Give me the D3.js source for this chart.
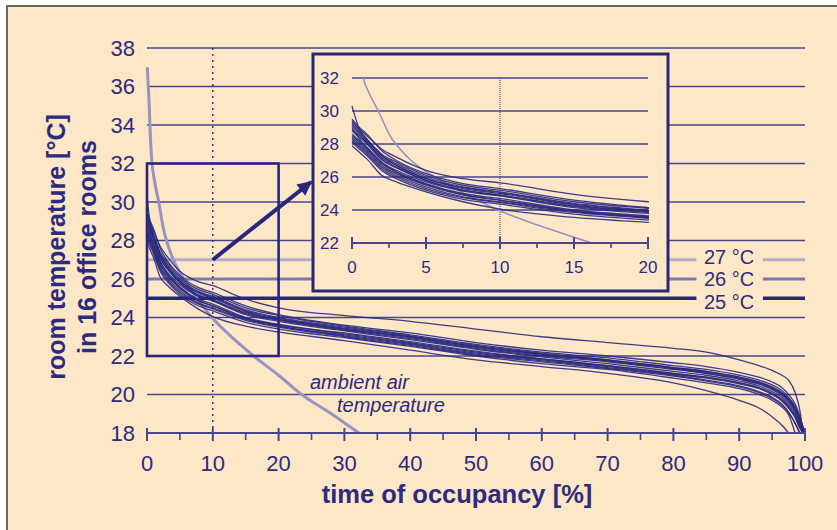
<!DOCTYPE html>
<html>
<head>
<meta charset="utf-8">
<script src="https://cdn.jsdelivr.net/npm/d3@7/dist/d3.min.js"></script>
<style>
  html, body { margin: 0; padding: 0; background: #ffffff; }
  svg { display: block; }
  text { font-family: "Liberation Sans", Arial, sans-serif; fill: #2c2b80; }
</style>
</head>
<body>
<svg id="chart" width="837" height="530"></svg>
<script>
// ---------------- DATA ----------------
const occupancy = [0, 0.5, 1, 2, 3, 5, 7.5, 10, 15, 20, 30, 40, 50, 60, 70, 80, 85, 90, 93, 95, 96.5, 97.5, 98.5, 99.2, 99.7, 100];

const room01 = [29.3, 28.9, 28.5, 27.7, 27.2, 26.4, 25.9, 25.65, 24.95, 24.5, 24.1, 23.8, 23.4, 23.0, 22.7, 22.4, 22.2, 21.8, 21.5, 21.25, 21.0, 20.75, 20.1, 19.2, 18.0, null];
const room02 = [27.9, 27.5, 27.1, 26.1, 25.7, 25.1, 24.5, 24.05, 23.55, 23.25, 22.8, 22.3, 21.8, 21.45, 21.1, 20.6, 20.2, 19.7, 19.3, 18.85, 18.4, 18.0, null, null, null, null];
const room03 = [30.3, 28.9, 28.3, 27.3, 26.7, 25.9, 25.3, 25.0, 24.3, 23.9, 23.4, 23.0, 22.5, 22.1, 21.75, 21.35, 21.1, 20.8, 20.55, 20.25, 19.95, 19.6, 19.1, 18.5, 18.0, null];
const room04 = [29.5, 29.0, 28.6, 27.6, 27.0, 26.2, 25.6, 25.3, 24.6, 24.15, 23.6, 23.2, 22.7, 22.3, 22.0, 21.65, 21.45, 21.15, 20.9, 20.65, 20.35, 20.0, 19.5, 18.9, 18.3, 18.0];
const room05 = [29.2, 28.7, 28.2, 27.3, 26.8, 26.0, 25.4, 25.1, 24.4, 24.0, 23.5, 23.05, 22.55, 22.15, 21.8, 21.4, 21.2, 20.9, 20.65, 20.35, 20.05, 19.7, 19.2, 18.6, 18.0, null];
const room06 = [28.3, 27.9, 27.5, 26.6, 26.1, 25.4, 24.8, 24.5, 23.9, 23.55, 23.05, 22.6, 22.1, 21.75, 21.4, 21.0, 20.75, 20.45, 20.15, 19.85, 19.5, 19.1, 18.5, 18.0, null, null];
const room07 = [28.9, 28.5, 28.1, 27.1, 26.6, 25.8, 25.2, 24.9, 24.2, 23.85, 23.35, 22.9, 22.4, 22.0, 21.7, 21.3, 21.1, 20.8, 20.55, 20.3, 20.0, 19.7, 19.25, 18.7, 18.2, 18.0];
const room08 = [28.5, 28.1, 27.7, 26.8, 26.3, 25.6, 25.0, 24.7, 24.0, 23.65, 23.15, 22.7, 22.2, 21.85, 21.5, 21.1, 20.9, 20.6, 20.35, 20.05, 19.7, 19.35, 18.85, 18.3, 18.0, null];
const room09 = [29.0, 28.3, 27.8, 26.9, 26.4, 25.7, 25.15, 24.85, 24.15, 23.8, 23.3, 22.85, 22.35, 21.95, 21.6, 21.2, 21.0, 20.7, 20.45, 20.15, 19.85, 19.5, 19.0, 18.45, 18.05, 18.0];
const room10 = [28.1, 27.7, 27.3, 26.4, 25.9, 25.2, 24.65, 24.35, 23.75, 23.4, 22.95, 22.5, 22.0, 21.6, 21.3, 20.85, 20.6, 20.3, 20.0, 19.7, 19.35, 18.95, 18.0, null, null, null];
const room11 = [29.4, 28.8, 28.3, 27.4, 26.9, 26.1, 25.5, 25.2, 24.5, 24.1, 23.55, 23.1, 22.6, 22.2, 21.9, 21.5, 21.3, 21.0, 20.75, 20.5, 20.2, 19.85, 19.35, 18.8, 18.3, 18.0];
const room12 = [28.6, 28.2, 27.8, 26.9, 26.3, 25.55, 24.95, 24.6, 23.95, 23.6, 23.2, 22.75, 22.25, 21.85, 21.5, 21.1, 20.9, 20.6, 20.35, 20.05, 19.75, 19.4, 18.9, 18.35, 18.0, null];
const room13 = [28.8, 28.4, 28.0, 27.05, 26.55, 25.8, 25.2, 24.9, 24.25, 23.9, 23.4, 22.95, 22.45, 22.05, 21.75, 21.35, 21.15, 20.85, 20.6, 20.35, 20.05, 19.75, 19.3, 18.75, 18.25, 18.0];
const room14 = [28.2, 27.8, 27.4, 26.5, 26.0, 25.3, 24.75, 24.45, 23.85, 23.5, 23.0, 22.55, 22.05, 21.7, 21.35, 20.95, 20.7, 20.4, 20.1, 19.8, 19.45, 19.05, 18.5, 18.0, null, null];
const room15 = [29.1, 28.6, 28.1, 27.2, 26.7, 25.9, 25.35, 25.05, 24.35, 23.95, 23.45, 23.0, 22.5, 22.1, 21.8, 21.4, 21.2, 20.9, 20.65, 20.4, 20.1, 19.8, 19.35, 18.8, 18.3, 18.0];
const room16 = [28.4, 28.0, 27.6, 26.7, 26.2, 25.5, 24.9, 24.6, 23.95, 23.55, 23.1, 22.65, 22.15, 21.8, 21.45, 21.05, 20.85, 20.55, 20.3, 20.0, 19.65, 19.3, 18.8, 18.25, 18.0, null];
const rooms = [room01, room02, room03, room04, room05, room06, room07, room08,
               room09, room10, room11, room12, room13, room14, room15, room16];

const ambientX = [0.05, 0.3, 0.55, 0.77, 1.2, 1.78, 2.57, 3.24, 4, 4.8, 6, 8, 10, 12.5, 15, 16.2, 20, 23.5, 28, 32.2];
const ambientT = [37, 35.3, 33.1, 32, 31, 30, 28.5, 27.7, 27.0, 26.45, 25.8, 24.8, 23.95, 23.1, 22.35, 22.0, 21.0, 20.0, 19.0, 18.0];

const thresholdValues = [27, 26, 25];
const thresholdLabels = ["27 °C", "26 °C", "25 °C"];

const mainYTicks = [18, 20, 22, 24, 26, 28, 30, 32, 34, 36, 38];
const mainGridValues = [20, 22, 24, 28, 30, 32, 34, 36, 38];
const mainXTicks = [0, 10, 20, 30, 40, 50, 60, 70, 80, 90, 100];
const mainXMinor = [5, 15, 25, 35, 45, 55, 65, 75, 85, 95];
const insetYTicks = [22, 24, 26, 28, 30, 32];
const insetGridValues = [24, 26, 28, 30, 32];
const insetXTicks = [0, 5, 10, 15, 20];
const insetXMinor = [2.5, 7.5, 12.5, 17.5];
const zoomRange = { x: [0, 20], t: [22, 32] };
const markerX = 10;

// ---------------- LAYOUT ----------------
const NAVY = "#2c2b80";
const GRID = "#47468f";
const BG = "#fde7c6";
const svg = d3.select("#chart");

const x = d3.scaleLinear().domain([0, 100]).range([147, 805]);
const y = d3.scaleLinear().domain([18, 38]).range([433, 48]);
const xi = d3.scaleLinear().domain([0, 20]).range([352, 648]);
const yi = d3.scaleLinear().domain([22, 32]).range([243, 78]);

// background and frame
svg.append("rect").attr("x", 0).attr("y", 0).attr("width", 837).attr("height", 530).attr("fill", "#ffffff");
svg.append("rect").attr("x", 7).attr("y", 6).attr("width", 840).attr("height", 540).attr("fill", BG)
   .attr("stroke", "#5b5650").attr("stroke-width", 1.8);

const defs = svg.append("defs");
defs.append("clipPath").attr("id", "clipMain").append("rect")
  .attr("x", x(0) - 2).attr("y", y(38)).attr("width", x(100) - x(0) + 4).attr("height", y(18) - y(38));
defs.append("clipPath").attr("id", "clipInset").append("rect")
  .attr("x", xi(0) - 1).attr("y", yi(32)).attr("width", xi(20) - xi(0) + 2).attr("height", yi(22) - yi(32));

// main gridlines
svg.append("g").selectAll("line").data(mainGridValues).join("line")
  .attr("x1", x(0)).attr("x2", x(100)).attr("y1", d => y(d)).attr("y2", d => y(d))
  .attr("stroke", GRID).attr("stroke-width", 1.6);

// threshold lines (with a gap for the labels)
const thrColors = ["#b3adca", "#7c78b1", "#27267a"];
const thrWidths = [3, 3, 3.6];
const labelOffsets = [-3, 0, 4];
const segs = [[0, 83.5], [93.6, 100]];
thresholdValues.forEach((t, i) => {
  segs.forEach(s => {
    svg.append("line").attr("x1", x(s[0])).attr("x2", x(s[1]))
      .attr("y1", y(t)).attr("y2", y(t))
      .attr("stroke", thrColors[i]).attr("stroke-width", thrWidths[i]);
  });
  svg.append("text").attr("x", 704).attr("y", y(t) + labelOffsets[i])
    .attr("font-size", 20).attr("dominant-baseline", "central").text(thresholdLabels[i]);
});

// dotted vertical marker
svg.append("line").attr("x1", x(markerX)).attr("x2", x(markerX)).attr("y1", y(38)).attr("y2", y(18))
  .attr("stroke", NAVY).attr("stroke-width", 1.4).attr("stroke-dasharray", "2,4");

const ambientData = ambientX.map((v, i) => [v, ambientT[i]]);

function drawCurves(g, xs, ys, clipId, roomW, ambW) {
  const lineR = d3.line().defined(d => d[1] !== null).x(d => xs(d[0])).y(d => ys(d[1])).curve(d3.curveMonotoneX);
  const cg = g.append("g").attr("clip-path", `url(#${clipId})`);
  cg.append("path").datum(ambientData).attr("d", lineR)
    .attr("fill", "none").attr("stroke", "#9893c3").attr("stroke-width", ambW);
  rooms.forEach(r => {
    cg.append("path").datum(occupancy.map((o, i) => [o, r[i]])).attr("d", lineR)
      .attr("fill", "none").attr("stroke", "#2a2980").attr("stroke-width", roomW).attr("stroke-opacity", 0.9);
  });
}

drawCurves(svg, x, y, "clipMain", 1.3, 3);

// main x axis
svg.append("line").attr("x1", x(0)).attr("x2", x(100)).attr("y1", y(18)).attr("y2", y(18))
  .attr("stroke", GRID).attr("stroke-width", 2);
svg.append("g").selectAll("line").data(mainXTicks).join("line")
  .attr("x1", d => x(d)).attr("x2", d => x(d)).attr("y1", y(18) - 5).attr("y2", y(18) + 8)
  .attr("stroke", GRID).attr("stroke-width", 2);
svg.append("g").selectAll("line").data(mainXMinor).join("line")
  .attr("x1", d => x(d)).attr("x2", d => x(d)).attr("y1", y(18)).attr("y2", y(18) + 7)
  .attr("stroke", GRID).attr("stroke-width", 1.6);
svg.append("g").selectAll("text").data(mainXTicks).join("text")
  .attr("x", d => x(d)).attr("y", 463).attr("text-anchor", "middle").attr("dominant-baseline", "central")
  .attr("font-size", 22).text(d => d);
svg.append("g").selectAll("text").data(mainYTicks).join("text")
  .attr("x", 135).attr("y", d => y(d)).attr("text-anchor", "end").attr("dominant-baseline", "central")
  .attr("font-size", 22).text(d => d);

// zoom rectangle
svg.append("rect").attr("x", x(zoomRange.x[0])).attr("y", y(zoomRange.t[1]))
  .attr("width", x(zoomRange.x[1]) - x(zoomRange.x[0])).attr("height", y(zoomRange.t[0]) - y(zoomRange.t[1]))
  .attr("fill", "none").attr("stroke", "#28277c").attr("stroke-width", 2.6);

// arrow
defs.append("marker").attr("id", "arrowHead").attr("viewBox", "0 0 10 10").attr("refX", 9).attr("refY", 5)
  .attr("markerWidth", 4.2).attr("markerHeight", 3.6).attr("orient", "auto").attr("markerUnits", "strokeWidth")
  .append("path").attr("d", "M0,0 L10,5 L0,10 Z").attr("fill", "#28277c");
svg.append("line").attr("x1", x(markerX)).attr("y1", y(27)).attr("x2", 311).attr("y2", 182)
  .attr("stroke", "#28277c").attr("stroke-width", 4).attr("marker-end", "url(#arrowHead)");

// ambient labels
svg.append("text").attr("x", 310).attr("y", 389).attr("font-size", 20).attr("font-style", "italic").text("ambient air");
svg.append("text").attr("x", 337).attr("y", 412).attr("font-size", 20).attr("font-style", "italic").text("temperature");

// axis titles
svg.append("text").attr("x", 457).attr("y", 503).attr("text-anchor", "middle")
  .attr("font-size", 25.5).attr("font-weight", "bold").text("time of occupancy [%]");
const yt = svg.append("text").attr("transform", "translate(0,247) rotate(-90)")
  .attr("text-anchor", "middle").attr("font-size", 25).attr("font-weight", "bold");
yt.append("tspan").attr("x", 0).attr("y", 65).text("room temperature [°C]");
yt.append("tspan").attr("x", 0).attr("y", 96).text("in 16 office rooms");

// ---------------- INSET ----------------
const inset = svg.append("g");
inset.append("rect").attr("x", 313).attr("y", 54).attr("width", 355).attr("height", 237)
  .attr("fill", BG).attr("stroke", "#28277c").attr("stroke-width", 3);
inset.append("g").selectAll("line").data(insetGridValues).join("line")
  .attr("x1", xi(0)).attr("x2", xi(20)).attr("y1", d => yi(d)).attr("y2", d => yi(d))
  .attr("stroke", GRID).attr("stroke-width", 1.6);
inset.append("line").attr("x1", xi(markerX)).attr("x2", xi(markerX)).attr("y1", yi(32)).attr("y2", yi(22))
  .attr("stroke", NAVY).attr("stroke-width", 1).attr("stroke-dasharray", "1,1");
drawCurves(inset, xi, yi, "clipInset", 1.3, 1.6);
inset.append("line").attr("x1", xi(0)).attr("x2", xi(20)).attr("y1", yi(22)).attr("y2", yi(22))
  .attr("stroke", GRID).attr("stroke-width", 2);
inset.append("g").selectAll("line").data(insetXTicks).join("line")
  .attr("x1", d => xi(d)).attr("x2", d => xi(d)).attr("y1", yi(22) - 6).attr("y2", yi(22) + 6)
  .attr("stroke", GRID).attr("stroke-width", 2);
inset.append("g").selectAll("line").data(insetXMinor).join("line")
  .attr("x1", d => xi(d)).attr("x2", d => xi(d)).attr("y1", yi(22)).attr("y2", yi(22) + 5)
  .attr("stroke", GRID).attr("stroke-width", 1.6);
inset.append("g").selectAll("text").data(insetXTicks).join("text")
  .attr("x", d => xi(d)).attr("y", 267).attr("text-anchor", "middle").attr("dominant-baseline", "central")
  .attr("font-size", 17).text(d => d);
inset.append("g").selectAll("text").data(insetYTicks).join("text")
  .attr("x", 339).attr("y", d => yi(d)).attr("text-anchor", "end").attr("dominant-baseline", "central")
  .attr("font-size", 17).text(d => d);
</script>
</body>
</html>
